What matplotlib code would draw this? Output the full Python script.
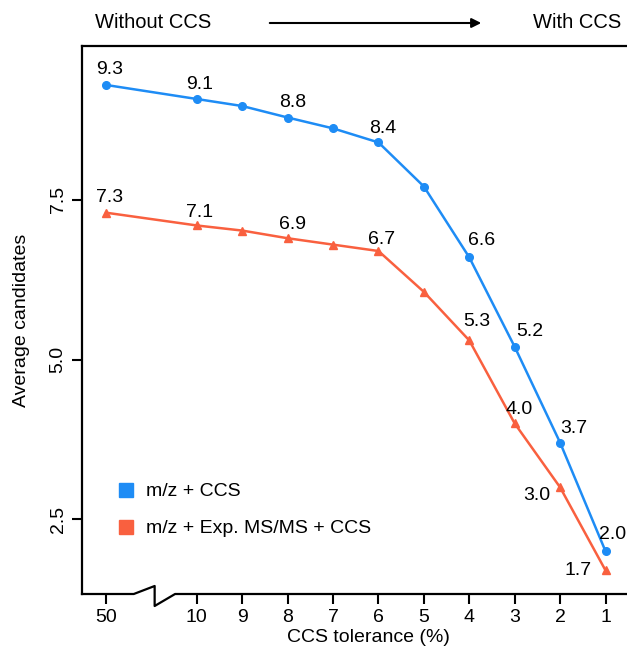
import matplotlib
matplotlib.use('Agg')
import matplotlib.pyplot as plt
import matplotlib.transforms as mtransforms
from matplotlib.lines import Line2D

plt.rcParams['font.family'] = ['Liberation Sans', 'DejaVu Sans']

# CCS tolerance categories (50 is placed before the axis break)
tolerance = ['50', '10', '9', '8', '7', '6', '5', '4', '3', '2', '1']
xpos = [-2, 0, 1, 2, 3, 4, 5, 6, 7, 8, 9]

ccs = [9.3, 9.08, 8.97, 8.79, 8.62, 8.4, 7.71, 6.6, 5.2, 3.7, 2.0]
msms_ccs = [7.3, 7.1, 7.02, 6.9, 6.8, 6.7, 6.06, 5.3, 4.0, 3.0, 1.7]

ccs_labels = {0: '9.3', 1: '9.1', 3: '8.8', 5: '8.4', 7: '6.6', 8: '5.2', 9: '3.7', 10: '2.0'}
msms_labels = {0: '7.3', 1: '7.1', 3: '6.9', 5: '6.7', 7: '5.3', 8: '4.0', 9: '3.0', 10: '1.7'}

# label offsets in pixels
ccs_off = {0: (4, 15), 1: (3, 15), 3: (5, 15), 5: (4, 14), 7: (12, 17), 8: (15, 15), 9: (14, 14), 10: (7, 17)}
msms_off = {0: (3, 15), 1: (3, 13), 3: (5, 14), 5: (3, 12), 7: (7, 19), 8: (4, 14), 9: (-23, -8), 10: (-27, 0)}

blue = '#1E8CF5'
red = '#F9603F'
fs = 14

fig = plt.figure(figsize=(6.27, 6.56), dpi=100)
ax = fig.add_axes([82/627, 62/656, 573/627, 548/656])

ax.plot(xpos, ccs, color=blue, lw=1.8, marker='o', ms=5.5, zorder=3)
ax.plot(xpos, msms_ccs, color=red, lw=1.8, marker='^', ms=5.5, zorder=3)

for i, t in ccs_labels.items():
    ax.annotate(t, (xpos[i], ccs[i]), xytext=ccs_off[i], textcoords='offset pixels',
                ha='center', va='center', fontsize=fs)
for i, t in msms_labels.items():
    ax.annotate(t, (xpos[i], msms_ccs[i]), xytext=msms_off[i], textcoords='offset pixels',
                ha='center', va='center', fontsize=fs)

ax.set_xlim(-2.53, 10.09)
ax.set_ylim(1.33, 9.91)
ax.set_xticks(xpos)
ax.set_xticklabels(tolerance, fontsize=fs)
ax.set_yticks([2.5, 5.0, 7.5])
ax.set_yticklabels(['2.5', '5.0', '7.5'], fontsize=fs, rotation=90, va='center')
ax.tick_params(direction='out', length=7, width=1.5, pad=4)
ax.set_xlabel('CCS tolerance (%)', fontsize=fs, labelpad=2)
ax.set_ylabel('Average candidates', fontsize=fs, labelpad=14)

for s in ['left', 'top']:
    ax.spines[s].set_linewidth(1.6)
ax.spines['right'].set_visible(False)
ax.spines['bottom'].set_visible(False)

# bottom axis line with break mark
tr = mtransforms.blended_transform_factory(ax.transData, ax.transAxes)
dy = 1 / 548
bx = [-2.53, -1.39, -0.93, -0.93, -0.48, 10.09]
by = [0, 0, 8*dy, -12*dy, 0, 0]
ax.plot(bx, by, color='black', lw=1.6, transform=tr, clip_on=False)

handles = [Line2D([], [], color=blue, marker='s', ls='none', ms=9.5),
           Line2D([], [], color=red, marker='s', ls='none', ms=9.5)]
ax.legend(handles, ['m/z + CCS', 'm/z + Exp. MS/MS + CCS'], loc='upper left',
          bbox_to_anchor=(0.03, 0.235), frameon=False, fontsize=fs,
          labelspacing=1.0, handletextpad=0.5, handlelength=1.0)

fig.text(153/627, 1 - 23/656, 'Without CCS', ha='center', va='center', fontsize=14.5)
fig.text(577/627, 1 - 23/656, 'With CCS', ha='center', va='center', fontsize=14.5)
ax.annotate('', xy=(484/627, 1 - 23/656), xytext=(267/627, 1 - 23/656),
            xycoords='figure fraction', textcoords='figure fraction',
            arrowprops=dict(arrowstyle='-|>', lw=1.5, color='black', mutation_scale=14))

fig.savefig('out.png', dpi=100)
